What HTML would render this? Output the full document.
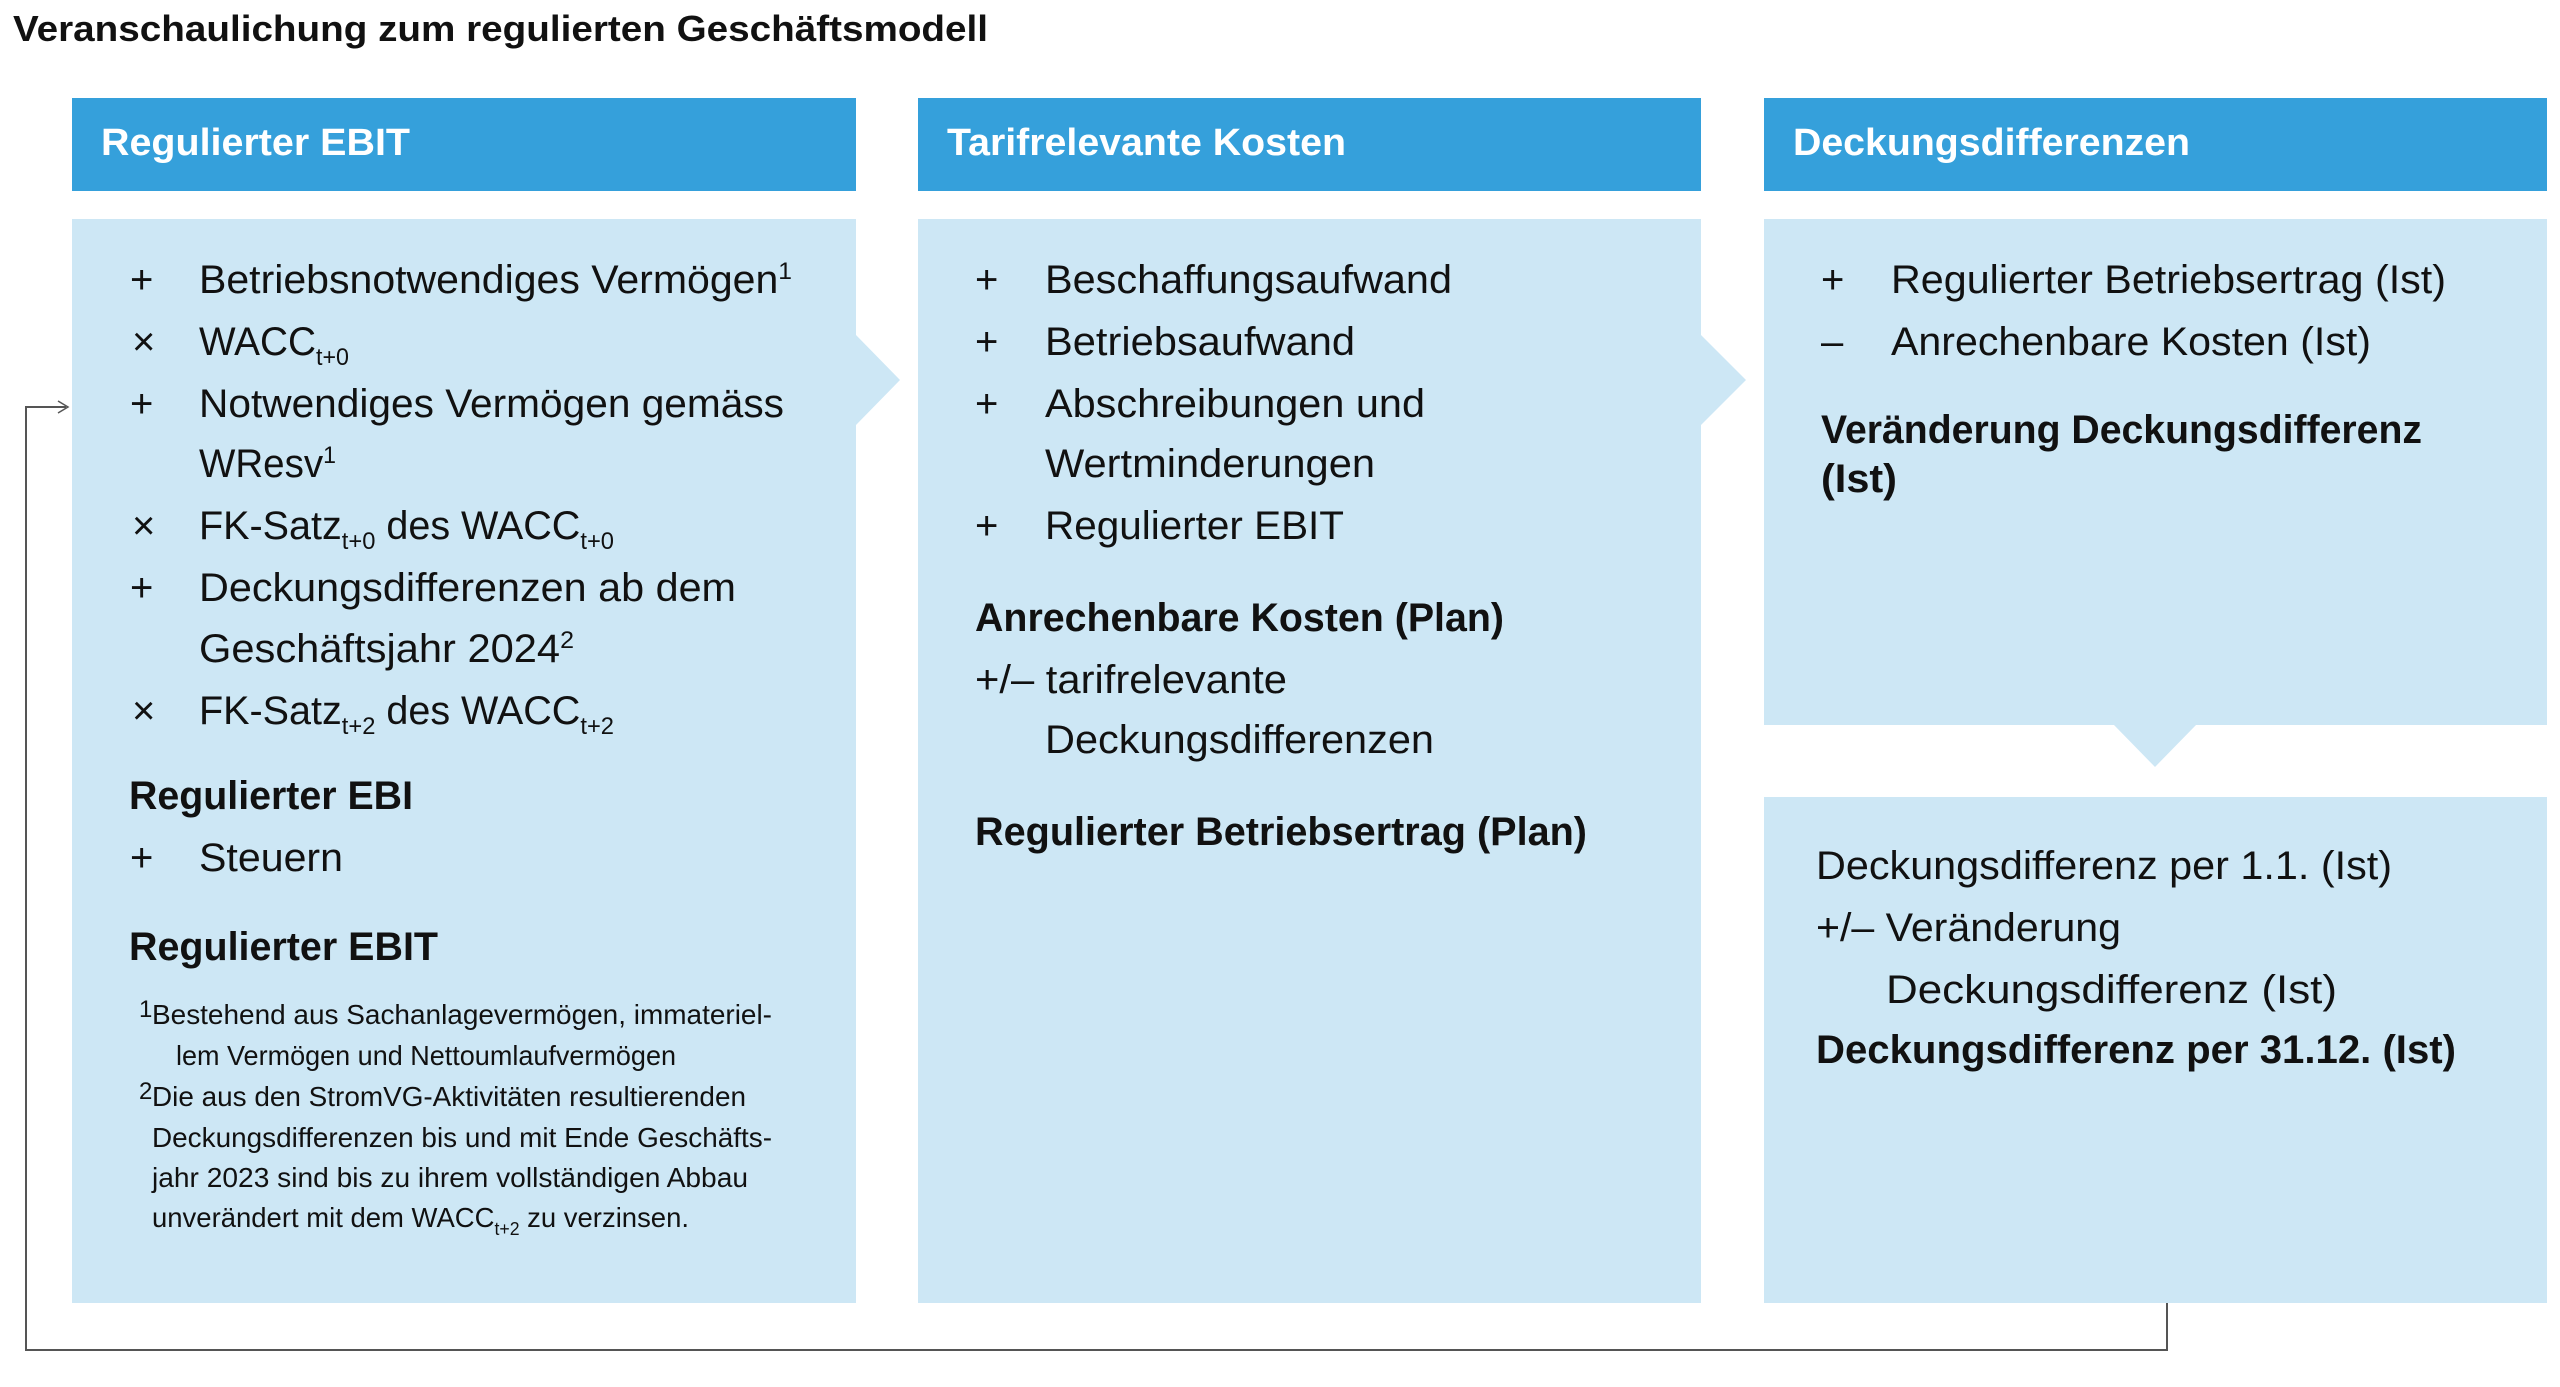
<!DOCTYPE html>
<html><head><meta charset="utf-8"><style>
html,body{margin:0;padding:0;background:#fff;}
svg{display:block;}
text{font-family:"Liberation Sans",sans-serif;fill:#111;}
.r{font-size:40px;}
.b{font-size:40px;font-weight:bold;}
.h{font-size:38px;font-weight:bold;fill:#fff;}
.f{font-size:28px;}
.s{font-size:24px;}
</style></head><body>
<svg width="2560" height="1387" viewBox="0 0 2560 1387" xmlns="http://www.w3.org/2000/svg">
<rect x="72" y="98" width="784" height="93" fill="#35a0db"/>
<rect x="918" y="98" width="783" height="93" fill="#35a0db"/>
<rect x="1764" y="98" width="783" height="93" fill="#35a0db"/>
<polygon points="72,219 856,219 856,335 900,380 856,425 856,1303 72,1303" fill="#cde7f5"/>
<polygon points="918,219 1701,219 1701,335 1746,380 1701,425 1701,1303 918,1303" fill="#cde7f5"/>
<polygon points="1764,219 2547,219 2547,725 2196,725 2155,767 2114,725 1764,725" fill="#cde7f5"/>
<rect x="1764" y="797" width="783" height="506" fill="#cde7f5"/>
<polyline points="2167,1303 2167,1350 26,1350 26,407 66,407" fill="none" stroke="#555" stroke-width="2"/>
<polyline points="58,401 68,407 58,413" fill="none" stroke="#555" stroke-width="1.5"/>
<g transform="translate(0,-3)">
<text x="13" y="44" font-size="36" font-weight="bold" textLength="975" lengthAdjust="spacingAndGlyphs">Veranschaulichung zum regulierten Geschäftsmodell</text>
<text class="h" x="101" y="158" textLength="309" lengthAdjust="spacingAndGlyphs">Regulierter EBIT</text>
<text class="h" x="947" y="158" textLength="399" lengthAdjust="spacingAndGlyphs">Tarifrelevante Kosten</text>
<text class="h" x="1793" y="158" textLength="397" lengthAdjust="spacingAndGlyphs">Deckungsdifferenzen</text>
<!-- col1 -->
<text class="r" x="130" y="296">+</text>
<text class="r" x="199" y="296" textLength="593" lengthAdjust="spacingAndGlyphs">Betriebsnotwendiges Vermögen<tspan class="s" dy="-14">1</tspan></text>
<text class="r" x="132" y="358">×</text>
<text class="r" x="199" y="358" textLength="150" lengthAdjust="spacingAndGlyphs">WACC<tspan class="s" dy="10">t+0</tspan></text>
<text class="r" x="130" y="420">+</text>
<text class="r" x="199" y="420" textLength="585" lengthAdjust="spacingAndGlyphs">Notwendiges Vermögen gemäss</text>
<text class="r" x="199" y="480" textLength="137" lengthAdjust="spacingAndGlyphs">WResv<tspan class="s" dy="-14">1</tspan></text>
<text class="r" x="132" y="542">×</text>
<text class="r" x="199" y="542" textLength="415" lengthAdjust="spacingAndGlyphs">FK-Satz<tspan class="s" dy="10">t+0</tspan><tspan dy="-10"> des WACC</tspan><tspan class="s" dy="10">t+0</tspan></text>
<text class="r" x="130" y="604">+</text>
<text class="r" x="199" y="604" textLength="537" lengthAdjust="spacingAndGlyphs">Deckungsdifferenzen ab dem</text>
<text class="r" x="199" y="665" textLength="375" lengthAdjust="spacingAndGlyphs">Geschäftsjahr 2024<tspan class="s" dy="-14">2</tspan></text>
<text class="r" x="132" y="727">×</text>
<text class="r" x="199" y="727" textLength="415" lengthAdjust="spacingAndGlyphs">FK-Satz<tspan class="s" dy="10">t+2</tspan><tspan dy="-10"> des WACC</tspan><tspan class="s" dy="10">t+2</tspan></text>
<text class="b" x="129" y="812" textLength="284" lengthAdjust="spacingAndGlyphs">Regulierter EBI</text>
<text class="r" x="130" y="874">+</text>
<text class="r" x="199" y="874" textLength="144" lengthAdjust="spacingAndGlyphs">Steuern</text>
<text class="b" x="129" y="963" textLength="309" lengthAdjust="spacingAndGlyphs">Regulierter EBIT</text>
<text class="s" x="139" y="1020" font-size="20">1</text>
<text class="f" x="152" y="1027" textLength="620" lengthAdjust="spacingAndGlyphs">Bestehend aus Sachanlagevermögen, immateriel-</text>
<text class="f" x="176" y="1068" textLength="500" lengthAdjust="spacingAndGlyphs">lem Vermögen und Nettoumlaufvermögen</text>
<text class="s" x="139" y="1102" font-size="20">2</text>
<text class="f" x="152" y="1109" textLength="594" lengthAdjust="spacingAndGlyphs">Die aus den StromVG-Aktivitäten resultierenden</text>
<text class="f" x="152" y="1150" textLength="620" lengthAdjust="spacingAndGlyphs">Deckungsdifferenzen bis und mit Ende Geschäfts-</text>
<text class="f" x="152" y="1190" textLength="596" lengthAdjust="spacingAndGlyphs">jahr 2023 sind bis zu ihrem vollständigen Abbau</text>
<text class="f" x="152" y="1230" textLength="537" lengthAdjust="spacingAndGlyphs">unverändert mit dem WACC<tspan font-size="18" dy="8">t+2</tspan><tspan dy="-8"> zu verzinsen.</tspan></text>
<!-- col2 -->
<text class="r" x="975" y="296">+</text>
<text class="r" x="1045" y="296" textLength="407" lengthAdjust="spacingAndGlyphs">Beschaffungsaufwand</text>
<text class="r" x="975" y="358">+</text>
<text class="r" x="1045" y="358" textLength="310" lengthAdjust="spacingAndGlyphs">Betriebsaufwand</text>
<text class="r" x="975" y="420">+</text>
<text class="r" x="1045" y="420" textLength="380" lengthAdjust="spacingAndGlyphs">Abschreibungen und</text>
<text class="r" x="1045" y="480" textLength="330" lengthAdjust="spacingAndGlyphs">Wertminderungen</text>
<text class="r" x="975" y="542">+</text>
<text class="r" x="1045" y="542" textLength="299" lengthAdjust="spacingAndGlyphs">Regulierter EBIT</text>
<text class="b" x="975" y="634" textLength="529" lengthAdjust="spacingAndGlyphs">Anrechenbare Kosten (Plan)</text>
<text class="r" x="975" y="696" textLength="312" lengthAdjust="spacingAndGlyphs">+/– tarifrelevante</text>
<text class="r" x="1045" y="756" textLength="389" lengthAdjust="spacingAndGlyphs">Deckungsdifferenzen</text>
<text class="b" x="975" y="848" textLength="612" lengthAdjust="spacingAndGlyphs">Regulierter Betriebsertrag (Plan)</text>
<!-- col3 -->
<text class="r" x="1821" y="296">+</text>
<text class="r" x="1891" y="296" textLength="555" lengthAdjust="spacingAndGlyphs">Regulierter Betriebsertrag (Ist)</text>
<text class="r" x="1821" y="358">–</text>
<text class="r" x="1891" y="358" textLength="480" lengthAdjust="spacingAndGlyphs">Anrechenbare Kosten (Ist)</text>
<text class="b" x="1821" y="446" textLength="601" lengthAdjust="spacingAndGlyphs">Veränderung Deckungsdifferenz</text>
<text class="b" x="1821" y="495" textLength="76" lengthAdjust="spacingAndGlyphs">(Ist)</text>
<text class="r" x="1816" y="882" textLength="576" lengthAdjust="spacingAndGlyphs">Deckungsdifferenz per 1.1. (Ist)</text>
<text class="r" x="1816" y="944" textLength="305" lengthAdjust="spacingAndGlyphs">+/– Veränderung</text>
<text class="r" x="1886" y="1006" textLength="451" lengthAdjust="spacingAndGlyphs">Deckungsdifferenz (Ist)</text>
<text class="b" x="1816" y="1066" textLength="640" lengthAdjust="spacingAndGlyphs">Deckungsdifferenz per 31.12. (Ist)</text>
</g>
</svg>
</body></html>
